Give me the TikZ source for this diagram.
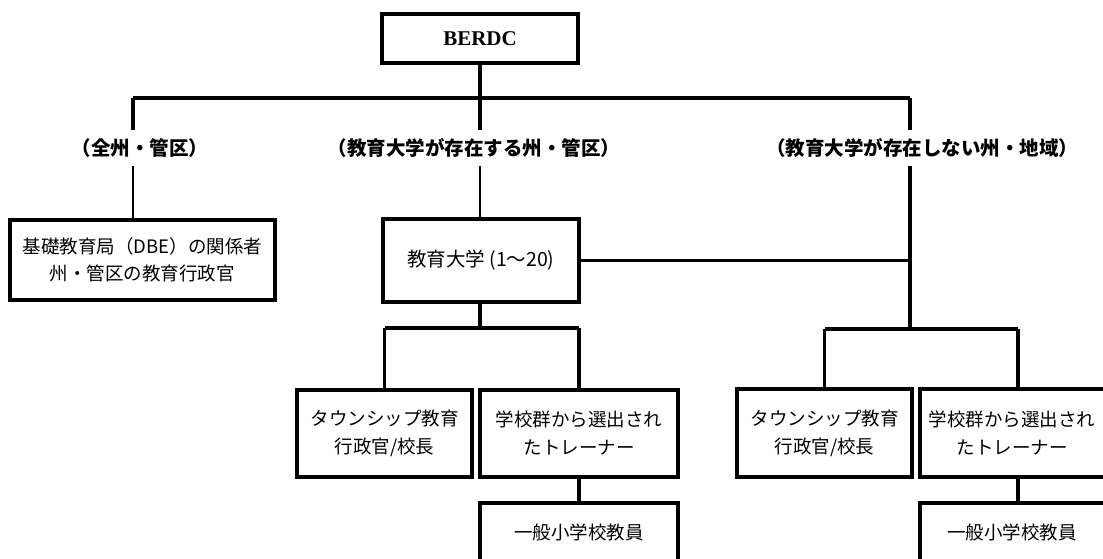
\documentclass[tikz,border=0pt]{standalone}
\usepackage{fontspec}
\setmainfont{Liberation Serif}
\newfontfamily\jp{Noto Sans CJK JP}
\begin{document}
\begin{tikzpicture}[x=1pt,y=-1pt,
  box/.style={draw, line width=3.3pt, align=center, inner sep=0pt,
    font=\jp\fontsize{18.5}{28}\selectfont},
  lab/.style={inner sep=0pt, minimum height=35pt,
    font=\jp\bfseries\fontsize{19.5}{24}\selectfont},
  conn/.style={line width=3.1pt},
  thinconn/.style={line width=2pt}]
\useasboundingbox (0,0) rectangle (1103,558);
\clip (0,0) rectangle (1103,558);
% boxes
\node[box, minimum width=196pt, minimum height=49pt,
  font=\bfseries\fontsize{21}{24}\selectfont] (berdc) at (480,38.5) {BERDC};
\node[box, minimum width=265pt, minimum height=80pt, font=\jp\fontsize{18.5}{27}\selectfont] (dbe) at (142.5,260)
  {基礎教育局（DBE）の関係者\\州・管区の教育行政官};
\node[box, minimum width=196pt, minimum height=83pt, font=\jp\fontsize{19.5}{28}\selectfont] (univ) at (481,260.5) {教育大学\hspace{4pt}(1～20)};
\node[box, minimum width=175pt, minimum height=87pt] (m1) at (384.5,433.5) {タウンシップ教育\\行政官/校長};
\node[box, minimum width=198pt, minimum height=87pt] (m2) at (579,433.5) {学校群から選出され\\たトレーナー};
\node[box, minimum width=198pt, minimum height=58pt] (m3) at (579,532) {一般小学校教員};
\node[box, minimum width=175pt, minimum height=88pt] (r1) at (824.5,433) {タウンシップ教育\\行政官/校長};
\node[box, minimum width=196pt, minimum height=88pt] (r2) at (1018,433) {};
\node[font=\jp\fontsize{18.5}{28}\selectfont, align=center, inner sep=0pt] (r2t) at (1012,433) {学校群から選出され\\たトレーナー};
\node[box, minimum width=196pt, minimum height=58pt] (r3) at (1018,532) {};
\node[font=\jp\fontsize{18.5}{28}\selectfont, inner sep=0pt] (r3t) at (1012,532) {一般小学校教員};
% labels
\node[lab] (lab1) at (140,148) {（全州・管区）};
\node[lab] (lab2) at (474,148) {（教育大学が存在する州・管区）};
\node[lab] (lab3) at (922,148) {（教育大学が存在しない州・地域）};
% coordinates
\coordinate (tl) at (133,98);
\coordinate (tm) at (480,98);
\coordinate (tr) at (910,98);
\coordinate (jm) at (480,328);
\coordinate (jr) at (910,329);
% connectors
\draw[conn] (berdc.south) -- (tm);
\draw[conn] (tl) -- (tr);
\draw[conn] (tl) -- (tl |- lab1.north);
\draw[thinconn] (tl |- lab1.south) -- (tl |- dbe.north);
\draw[conn] (tm) -- (tm |- lab2.north);
\draw[thinconn] (tm |- lab2.south) -- (tm |- univ.north);
\draw[conn] (tr) -- (tr |- lab3.north);
\draw[conn] (tr |- lab3.south) -- (jr);
\draw[conn] (univ.east) -- (univ.east -| tr);
\draw[conn] (univ.south -| jm) -- (jm);
\draw[conn] (m1.north |- jm) -- (m2.north |- jm);
\draw[conn] (m1.north |- jm) -- (m1.north);
\draw[conn] (m2.north |- jm) -- (m2.north);
\draw[conn] (m2.south) -- (m3.north);
\draw[conn] (r1.north |- jr) -- (r2.north |- jr);
\draw[conn] (r1.north |- jr) -- (r1.north);
\draw[conn] (r2.north |- jr) -- (r2.north);
\draw[conn] (r2.south) -- (r3.north);
\end{tikzpicture}
\end{document}
